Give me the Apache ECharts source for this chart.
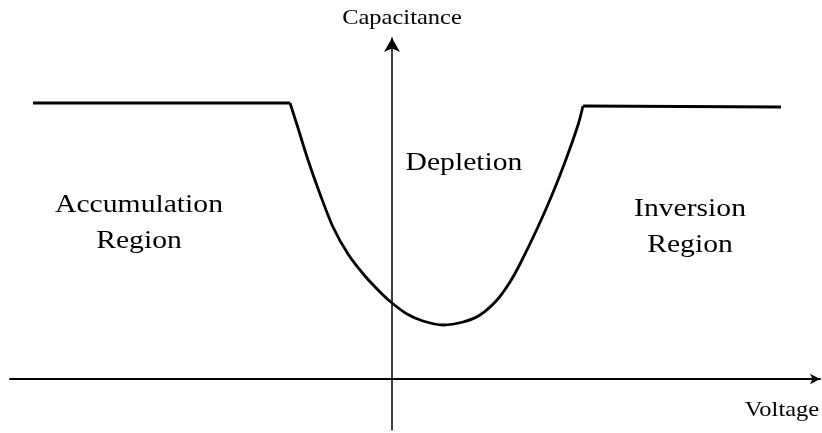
<!DOCTYPE html>
<html>
<head>
<meta charset="utf-8">
<script src="https://cdn.jsdelivr.net/npm/echarts@6/dist/echarts.min.js"></script>
<style>html,body{margin:0;padding:0;background:#fff;}#c{width:822px;height:433px;}</style>
</head>
<body>
<div id="c"></div>
<script>
// Schematic C-V curve (voltage, capacitance) in arbitrary units
const accumulation = [[-35.9, 27.6], [-10.2, 27.6]];
const depletion = [
  [-10.2, 27.6], [-9.4, 25.1], [-8.4, 21.9], [-7.2, 18.5], [-5.9, 15.2],
  [-4.4, 12.5], [-2.7, 10.3], [-1.0, 8.5], [0, 7.6], [1.5, 6.5], [3.1, 5.8],
  [5.1, 5.4], [7.1, 5.7], [8.8, 6.4], [10.5, 7.9], [11.8, 9.7], [12.8, 11.5],
  [14.5, 15.0], [16.0, 18.4], [17.3, 21.7], [18.6, 25.4], [19.1, 27.3]
];
const inversion = [[19.1, 27.3], [38.9, 27.2]];
const axisNames = { x: 'Voltage', y: 'Capacitance' };
const regionLabels = ['Accumulation\nRegion', 'Depletion', 'Inversion\nRegion'];

const chart = echarts.init(document.getElementById('c'));
const lineStyle = { color: '#000', width: 2.8 };
const serif = '"Liberation Serif", "DejaVu Serif", serif';
const sx = 1.14;
function label(text, x, y, size) {
  return { type: 'text', x: x, y: y, scaleX: sx,
    style: { text: text, font: size + 'px ' + serif, fill: '#000', align: 'center', verticalAlign: 'middle', lineHeight: 36 } };
}
chart.setOption({
  animation: false,
  backgroundColor: '#fff',
  grid: { left: 10, right: 2, top: 38, bottom: 3 },
  xAxis: {
    type: 'value', min: -38.2, max: 42.8,
    axisLine: { onZero: true, lineStyle: { color: '#000', width: 2 }, symbol: ['none', 'arrow'], symbolSize: [8, 10] },
    axisTick: { show: false }, axisLabel: { show: false }, splitLine: { show: false }
  },
  yAxis: {
    type: 'value', min: -5.1, max: 34.1,
    axisLine: { onZero: true, lineStyle: { color: '#000', width: 1.5 }, symbol: ['none', 'arrow'], symbolSize: [12, 14] },
    axisTick: { show: false }, axisLabel: { show: false }, splitLine: { show: false }
  },
  series: [
    { type: 'line', data: accumulation, showSymbol: false, lineStyle },
    { type: 'line', data: depletion, showSymbol: false, smooth: 0.3, lineStyle },
    { type: 'line', data: inversion, showSymbol: false, lineStyle }
  ],
  graphic: [
    label(axisNames.y, 402, 18, 21.5),
    label(axisNames.x, 782, 410, 21.5),
    label(regionLabels[0], 139, 223, 26),
    label(regionLabels[1], 464, 163, 26),
    label(regionLabels[2], 690, 227, 26)
  ]
});
</script>
</body>
</html>
